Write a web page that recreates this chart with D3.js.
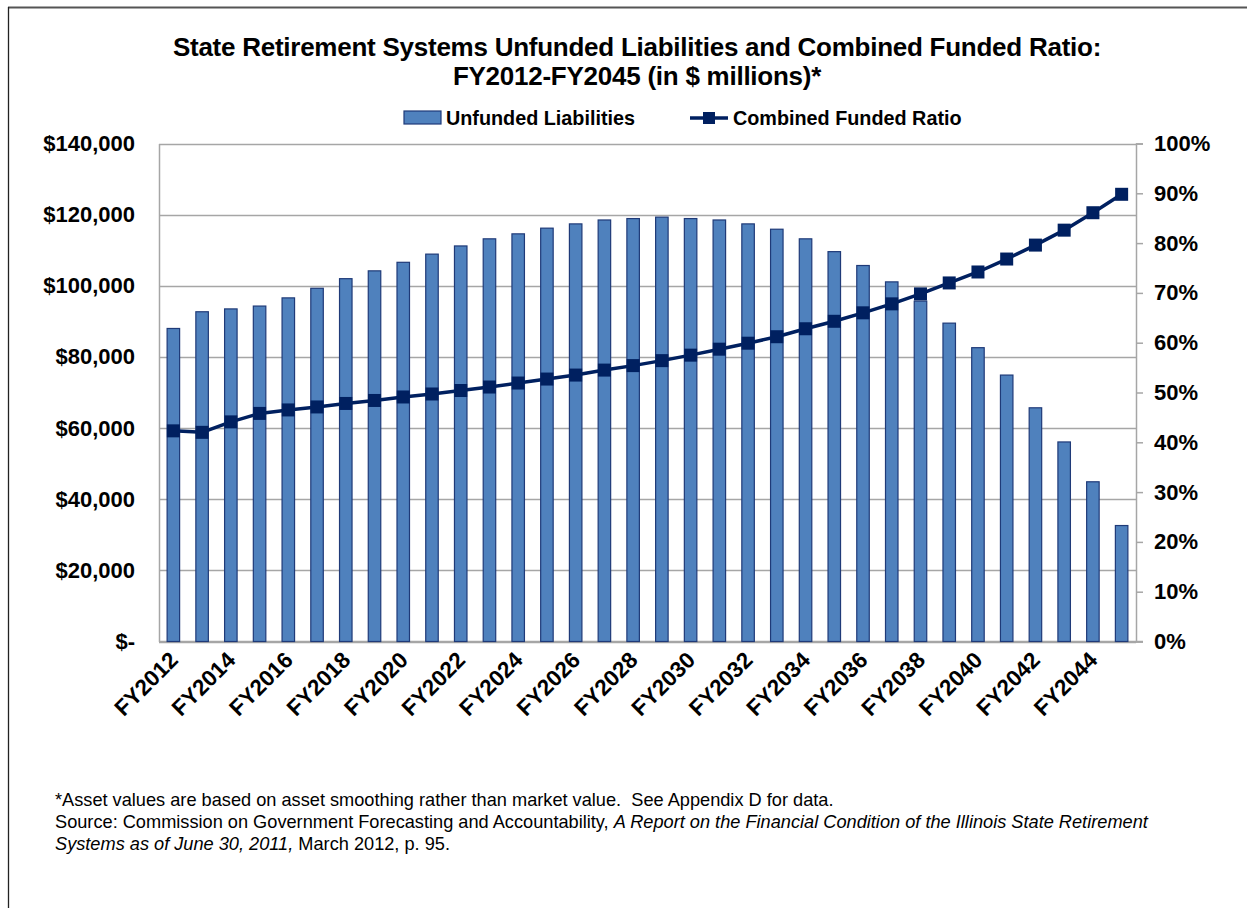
<!DOCTYPE html>
<html>
<head>
<meta charset="utf-8">
<script src="https://cdn.jsdelivr.net/npm/d3@7"></script>
<style>
  html, body { margin: 0; padding: 0; background: #fff; }
  svg { display: block; font-family: "Liberation Sans", Arial, sans-serif; }
</style>
</head>
<body>
<svg id="chart" width="1247" height="908"></svg>
<script>
// Fiscal years FY2012..FY2045
const years = [2012,2013,2014,2015,2016,2017,2018,2019,2020,2021,2022,2023,2024,2025,2026,2027,2028,
               2029,2030,2031,2032,2033,2034,2035,2036,2037,2038,2039,2040,2041,2042,2043,2044,2045];

// Unfunded liabilities, $ millions
const unfunded = [88000, 92700, 93500, 94300, 96600, 99300, 102000, 104200, 106600, 108900, 111200,
                  113200, 114600, 116200, 117400, 118500, 118900, 119300, 118900, 118500, 117400,
                  115900, 113200, 109600, 105700, 101100, 95700, 89500, 82600, 74900, 65700,
                  56100, 44900, 32600];

// Combined funded ratio, percent
const fundedRatio = [42.3, 42.0, 44.1, 45.8, 46.5, 47.1, 47.8, 48.4, 49.1, 49.7, 50.4, 51.1, 51.9,
                     52.7, 53.5, 54.5, 55.4, 56.4, 57.5, 58.7, 59.9, 61.2, 62.8, 64.3, 66.0, 67.8,
                     69.8, 72.0, 74.2, 76.8, 79.6, 82.6, 86.1, 89.8];

const leftTicks = [0, 20000, 40000, 60000, 80000, 100000, 120000, 140000];
const rightTicks = [0, 10, 20, 30, 40, 50, 60, 70, 80, 90, 100];

const categories = years.map(y => "FY" + y);

const svg = d3.select("#chart");
const plot = { left: 159, right: 1136, top: 143.5, bottom: 641.5 };

const barColor = "#4F81BD";
const barStroke = "#1F3A78";
const lineColor = "#002060";
const gridColor = "#A6A6A6";

// outer frame
svg.append("line").attr("x1", 8).attr("x2", 1247).attr("y1", 7.5).attr("y2", 7.5)
  .attr("stroke", "#555").attr("stroke-width", 2);
svg.append("line").attr("x1", 8.5).attr("x2", 8.5).attr("y1", 7).attr("y2", 908)
  .attr("stroke", "#222").attr("stroke-width", 1.3);

// title
const title = svg.append("text").attr("text-anchor", "middle")
  .attr("font-weight", "bold").attr("font-size", 26).attr("fill", "#000")
  .attr("letter-spacing", -0.25);
title.append("tspan").attr("x", 637).attr("y", 56)
  .text("State Retirement Systems Unfunded Liabilities and Combined Funded Ratio:");
title.append("tspan").attr("x", 637).attr("y", 85)
  .text("FY2012-FY2045 (in $ millions)*");

// scales
const x = d3.scaleBand().domain(categories).range([plot.left, plot.right]).paddingInner(0).paddingOuter(0);
const yL = d3.scaleLinear().domain([0, 140000]).range([plot.bottom, plot.top]);
const yR = d3.scaleLinear().domain([0, 100]).range([plot.bottom, plot.top]);

// gridlines
svg.append("g").selectAll("line").data(leftTicks).join("line")
  .attr("x1", plot.left).attr("x2", plot.right)
  .attr("y1", d => Math.round(yL(d)) + 0.5).attr("y2", d => Math.round(yL(d)) + 0.5)
  .attr("stroke", gridColor).attr("stroke-width", 1.5);

// left axis
const leftAxis = svg.append("g").attr("transform", `translate(${plot.left},0)`)
  .call(d3.axisLeft(yL).tickValues(leftTicks).tickSize(0).tickPadding(24)
    .tickFormat(d => d === 0 ? "$-" : "$" + d3.format(",")(d)));
leftAxis.select(".domain").attr("stroke", gridColor).attr("stroke-width", 1.5);
leftAxis.selectAll("text").attr("font-size", 22).attr("font-weight", "bold")
  .attr("font-family", "Liberation Sans, Arial, sans-serif").attr("fill", "#000");

// right axis
const rightAxis = svg.append("g").attr("transform", `translate(${plot.right},0)`)
  .call(d3.axisRight(yR).tickValues(rightTicks).tickSize(7).tickPadding(11)
    .tickFormat(d => d + "%"));
rightAxis.select(".domain").attr("stroke", gridColor).attr("stroke-width", 1.5);
rightAxis.selectAll(".tick line").attr("stroke", gridColor).attr("stroke-width", 1.5);
rightAxis.selectAll("text").attr("font-size", 22).attr("font-weight", "bold")
  .attr("font-family", "Liberation Sans, Arial, sans-serif").attr("fill", "#000");

// bottom axis line
svg.append("line").attr("x1", plot.left).attr("x2", plot.right + 7)
  .attr("y1", plot.bottom).attr("y2", plot.bottom)
  .attr("stroke", gridColor).attr("stroke-width", 1.5);

// bars
const barW = x.bandwidth() * 0.435;
svg.append("g").selectAll("rect").data(unfunded).join("rect")
  .attr("x", (d, i) => x(categories[i]) + (x.bandwidth() - barW) / 2)
  .attr("y", d => yL(d))
  .attr("width", barW)
  .attr("height", d => yL(0) - yL(d))
  .attr("fill", barColor).attr("stroke", barStroke).attr("stroke-width", 1.2);

// funded ratio line
const cx = i => x(categories[i]) + x.bandwidth() / 2;
const line = d3.line().x((d, i) => cx(i)).y(d => yR(d));
svg.append("path").datum(fundedRatio).attr("d", line)
  .attr("fill", "none").attr("stroke", lineColor).attr("stroke-width", 3.5)
  .attr("stroke-linejoin", "round");
const mk = 13;
svg.append("g").selectAll("rect").data(fundedRatio).join("rect")
  .attr("x", (d, i) => cx(i) - mk / 2).attr("y", d => yR(d) - mk / 2)
  .attr("width", mk).attr("height", mk).attr("fill", lineColor);

// x labels, every other year
svg.append("g").selectAll("text").data(categories.filter((c, i) => i % 2 === 0)).join("text")
  .attr("transform", d => `translate(${x(d) + x.bandwidth() / 2 + 6},${plot.bottom + 20}) rotate(-45)`)
  .attr("text-anchor", "end").attr("font-size", 22.5).attr("font-weight", "bold")
  .attr("fill", "#000").text(d => d);

// legend
const lg = svg.append("g");
lg.append("rect").attr("x", 404).attr("y", 111).attr("width", 37).attr("height", 13)
  .attr("fill", barColor).attr("stroke", barStroke).attr("stroke-width", 1.2);
lg.append("text").attr("x", 446).attr("y", 125).attr("font-size", 19.8).attr("font-weight", "bold")
  .attr("fill", "#000").text("Unfunded Liabilities");
lg.append("line").attr("x1", 690).attr("x2", 728).attr("y1", 118).attr("y2", 118)
  .attr("stroke", lineColor).attr("stroke-width", 3.5);
lg.append("rect").attr("x", 703).attr("y", 112).attr("width", 12).attr("height", 12).attr("fill", lineColor);
lg.append("text").attr("x", 733).attr("y", 125).attr("font-size", 19.8).attr("font-weight", "bold")
  .attr("fill", "#000").text("Combined Funded Ratio");

// footnotes
const fn = svg.append("g").attr("font-size", 18.2).attr("fill", "#000");
fn.append("text").attr("x", 55).attr("y", 806).attr("xml:space", "preserve")
  .text("*Asset values are based on asset smoothing rather than market value.  See Appendix D for data.");
const l2 = fn.append("text").attr("x", 55).attr("y", 828);
l2.append("tspan").text("Source: Commission on Government Forecasting and Accountability, ");
l2.append("tspan").attr("font-style", "italic")
  .text("A Report on the Financial Condition of the Illinois State Retirement");
const l3 = fn.append("text").attr("x", 55).attr("y", 850);
l3.append("tspan").attr("font-style", "italic").text("Systems as of June 30, 2011,");
l3.append("tspan").text(" March 2012, p. 95.");
</script>
</body>
</html>
